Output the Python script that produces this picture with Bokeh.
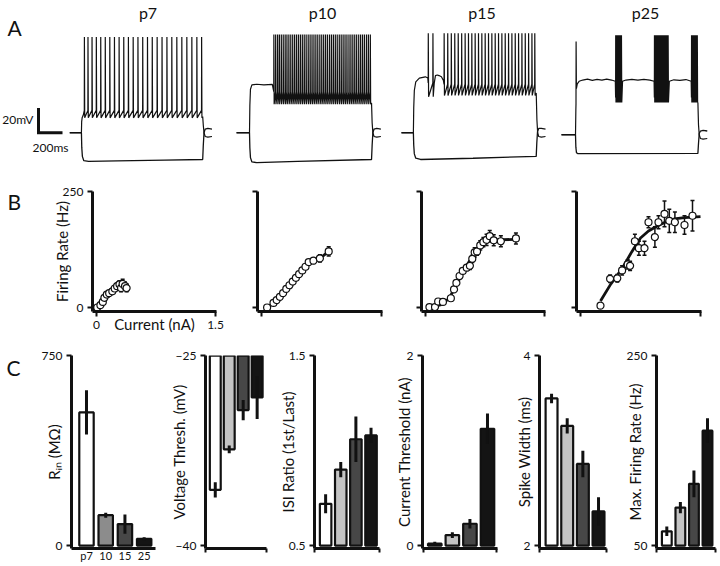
from bokeh.plotting import figure
from bokeh.layouts import row, column
from bokeh.models import Range1d, FixedTicker, Label, ColumnDataSource, Whisker, TeeHead
from bokeh.embed import file_html
from bokeh.resources import INLINE

FONT = "Lato"
INK = "#111111"

# ======================= DATA =======================
# ---- Panel A: current-clamp traces (time in ms, membrane potential in mV) ----
ages = ["p7", "p10", "p15", "p25"]
scale_ms = 200
scale_mv = 20

p7_hyper_t = [-100, 0, 3, 8, 20, 60, 300, 700, 1017, 1022, 1028, 1038, 1060, 1095]
p7_hyper_v = [-70, -70, -82, -89, -92.5, -93, -92.6, -92, -91.5, -80, -70, -67, -66.5, -67]
p7_pre_t = [-100, 0, 2, 6, 15]
p7_pre_v = [-70, -70, -61, -58, -56]
p7_spikes = [25, 55, 89, 125, 162, 200, 238, 277, 316, 355, 394, 434, 474, 514, 554,
             594, 635, 676, 717, 758, 800, 842, 884, 926, 968, 1008]
p7_post_t = [1017, 1022, 1028, 1038, 1060, 1095]
p7_post_v = [-57, -64, -70, -73, -73.5, -73]

p10_hyper_t = [-108, 0, 3, 8, 20, 60, 400, 1017, 1022, 1028, 1038, 1060, 1095]
p10_hyper_v = [-70, -70, -82, -90, -93.5, -94, -93, -91.5, -80, -70, -67, -66.5, -67]
p10_pre_t = [-108, 0, 3, 8, 20, 60, 120, 190]
p10_pre_v = [-70, -70, -48, -35, -31.5, -31, -31.5, -31]
p10_spikes = [203, 218, 234, 249, 265, 281, 297, 312, 328, 344, 360, 376, 392, 408, 424,
              440, 456, 472, 489, 505, 521, 537, 553, 569, 586, 602, 618, 634, 650, 667,
              683, 699, 715, 731, 748, 764, 780, 796, 812, 829, 845, 861, 877, 893, 910,
              926, 942, 958, 975, 991, 1007]
p10_post_t = [1017, 1022, 1028, 1038, 1060, 1095]
p10_post_v = [-46, -62, -70, -73, -73.5, -73]

p15_hyper_t = [-100, 0, 3, 8, 20, 60, 500, 1030, 1035, 1041, 1051, 1073, 1108]
p15_hyper_v = [-70, -70, -80, -87, -90.5, -91.5, -90.5, -89, -78, -69, -66.5, -66.5, -67]
p15_pre_t = [-100, 0, 3, 8, 20, 50, 100, 121]
p15_pre_v = [-70, -70, -50, -36, -29, -26, -25, -26]
p15_pair = [125, 164]
p15_mid_t = [175, 185, 200, 215, 235, 252]
p15_mid_v = [-30, -24, -23.5, -24, -25, -28]
p15_train = [258, 288, 318, 347, 376, 405, 434, 462, 490, 518, 546, 574, 602, 630,
             658, 686, 714, 742, 770, 798, 826, 854, 882, 910, 938, 966, 994, 1018]
p15_post_t = [1030, 1036, 1042, 1051, 1073, 1108]
p15_post_v = [-38, -60, -70, -73, -73.5, -73]

p25_hyper_t = [-117, 0, 3, 8, 20, 1020, 1025, 1031, 1041, 1063, 1098]
p25_hyper_v = [-70, -70, -80, -84.5, -85.2, -85, -77, -69, -67, -66.5, -67]
p25_pre_t = [-117, 0, 3]
p25_pre_v = [-70, -70, -50]
p25_first = [5]
p25_plat1_t = [15, 30, 60, 100, 140, 180, 220, 260, 300, 332]
p25_plat1_v = [-29, -27, -26, -25.3, -26.2, -25.5, -26, -25.2, -26, -27]
p25_burst1 = [335, 341, 347, 353, 359, 365, 371, 377, 383]
p25_plat2_t = [392, 420, 470, 520, 570, 620, 655]
p25_plat2_v = [-27, -26, -25.4, -26.1, -25.5, -26, -27]
p25_burst2 = [658, 664, 670, 676, 682, 688, 694, 700, 706, 712, 718, 724, 730, 736,
              742, 748, 754, 760, 766, 772]
p25_plat3_t = [782, 820, 870, 920, 964]
p25_plat3_v = [-27, -25.8, -26.2, -25.6, -27]
p25_burst3 = [967, 973, 979, 985, 991, 997, 1003, 1009, 1015]
p25_post_t = [1020, 1025, 1031, 1041, 1063, 1098]
p25_post_v = [-44, -62, -70, -73, -73.5, -73]

# ---- Panel B: firing rate (Hz) vs injected current (nA) ----
b_p7_x = [0.01, 0.05, 0.08, 0.10, 0.13, 0.16, 0.20, 0.23, 0.26, 0.29, 0.31, 0.33, 0.36, 0.38]
b_p7_y = [0, 5, 12, 21, 28, 31, 35, 41, 46, 50, 42, 51, 46, 42]
b_p7_e = [0, 0, 0, 0, 2, 3, 4, 5, 6, 8, 8, 10, 9, 8]

b_p10_x = [0.07, 0.15, 0.19, 0.23, 0.27, 0.31, 0.35, 0.39, 0.43, 0.47, 0.51, 0.55, 0.59, 0.65, 0.73, 0.84]
b_p10_y = [0, 10, 16, 23, 31, 40, 48, 56, 64, 72, 80, 88, 98, 101, 106, 121]
b_p10_e = [0, 0, 0, 0, 0, 0, 0, 0, 0, 0, 3, 4, 5, 6, 8, 10]

b_p15_x = [0.05, 0.12, 0.16, 0.22, 0.32, 0.36, 0.39, 0.43, 0.47, 0.52, 0.56, 0.59, 0.62,
           0.65, 0.69, 0.73, 0.77, 0.81, 0.86, 0.95, 1.14]
b_p15_y = [1, 1, 13, 12, 20, 39, 53, 68, 79, 86, 90, 105, 119, 121, 134, 141, 146, 154, 145, 143, 149]
b_p15_e = [0, 0, 0, 0, 2, 3, 3, 4, 5, 6, 8, 8, 10, 8, 10, 10, 12, 12, 12, 12, 12]
b_p15_fit_x = [0.05, 0.2, 0.3, 0.4, 0.5, 0.6, 0.7, 0.8, 0.9, 1.14]
b_p15_fit_y = [0, 6, 20, 52, 85, 113, 133, 143, 146, 147]

b_p25_x = [0.25, 0.37, 0.46, 0.52, 0.59, 0.62, 0.68, 0.73, 0.80, 0.85, 0.93, 0.975,
           1.05, 1.11, 1.18, 1.30, 1.40]
b_p25_y = [4, 62, 63, 80, 93, 90, 143, 128, 128, 184, 152, 184, 202, 187, 184, 178, 198]
b_p25_e = [0, 8, 8, 10, 10, 10, 15, 15, 15, 12, 22, 14, 28, 25, 22, 20, 33]
b_p25_fit_x = [0.25, 0.38, 0.52, 0.64, 0.75, 0.85, 0.96, 1.07, 1.17, 1.3, 1.5]
b_p25_fit_y = [14, 51, 84, 120, 150, 165, 176, 185, 191, 194, 196]

# ---- Panel C: summary bars (p7, p10, p15, p25) ----
c_cats = ["p7", "10", "15", "25"]
rin = [526, 120, 85, 27]
rin_err = [87, 10, 38, 6]
vthr = [-35.6, -32.4, -29.3, -28.3]
vthr_err = [0.6, 0.3, 0.8, 1.7]
isi = [0.72, 0.90, 1.06, 1.08]
isi_err = [0.05, 0.04, 0.12, 0.04]
ithr = [0.02, 0.11, 0.23, 1.23]
ithr_err = [0.02, 0.03, 0.05, 0.16]
swidth = [3.55, 3.26, 2.86, 2.36]
swidth_err = [0.05, 0.08, 0.14, 0.15]
maxfr = [65, 90, 115, 171]
maxfr_err = [5, 6, 14, 13]

colors = ["#ffffff", "#c4c4c4", "#474747", "#141414"]
colors_rin = ["#ffffff", "#8c8c8c", "#474747", "#141414"]

# ======================= LAYOUT HELPERS =======================
SX = 718 / 720
SY = 564 / 566


def px(v):
    return int(round(v * SX))


def py(v):
    return int(round(v * SY))


def make_fig(cx, cy, fx, fy, xr, yr, axes=True):
    kw = dict(width=px(cx[1]) - px(cx[0]), height=py(cy[1]) - py(cy[0]),
              x_range=Range1d(*xr), y_range=Range1d(*yr),
              output_backend="svg", toolbar_location=None,
              min_border_left=px(fx[0]) - px(cx[0]), min_border_right=px(cx[1]) - px(fx[1]),
              min_border_top=py(fy[0]) - py(cy[0]), min_border_bottom=py(cy[1]) - py(fy[1]))
    if not axes:
        kw.update(x_axis_type=None, y_axis_type=None)
    p = figure(**kw)
    p.outline_line_color = None
    p.background_fill_color = "white"
    p.border_fill_color = "white"
    if axes:
        p.grid.visible = False
    return p


def style_axis(ax, ticks, label=None, show=True, standoff=0, tick_out=5, size="12px"):
    ax.ticker = FixedTicker(ticks=ticks)
    ax.axis_line_width = 3
    ax.axis_line_color = INK
    ax.major_tick_line_width = 2
    ax.major_tick_line_color = INK
    ax.major_tick_out = tick_out
    ax.major_tick_in = 0
    ax.minor_tick_out = 0
    ax.minor_tick_in = 0
    ax.major_label_text_font = FONT
    ax.major_label_text_font_size = size
    ax.major_label_text_color = INK
    ax.major_label_standoff = 4
    if not show:
        ax.major_label_overrides = {t: "" for t in ticks}
    ax.axis_label = label
    ax.axis_label_text_font = FONT
    ax.axis_label_text_font_size = "15px"
    ax.axis_label_text_font_style = "normal"
    ax.axis_label_text_color = INK
    ax.axis_label_standoff = standoff


def spikes_path(times, peak, trough, thr):
    t, v = [], []
    for s in times:
        t += [s - 0.8, s, s + 2.5]
        v += [thr, peak, trough]
    return t, v


def concat(*parts):
    t, v = [], []
    for pt, pv in parts:
        t += list(pt)
        v += list(pv)
    return t, v


# ======================= ROW A =======================
MS_PX, MV_PX = 0.12, 1.25   # reference pixels per ms / per mV
A_Y = (0, 178)


def trace_ranges(cx, onset_px, base_px):
    xr = ((cx[0] - onset_px) / MS_PX, (cx[1] - onset_px) / MS_PX)
    yr = (-70 - (A_Y[1] - base_px) / MV_PX, -70 + (base_px - A_Y[0]) / MV_PX)
    return xr, yr


# scale-bar / letter figure
a0_cx = (0, 69)
a0 = make_fig(a0_cx, A_Y, a0_cx, A_Y,
              ((a0_cx[0] - 38) / MS_PX, (a0_cx[1] - 38) / MS_PX),
              (-(A_Y[1] - 133) / MV_PX, 133 / MV_PX), axes=False)
a0.line(x=[scale_ms, 0, 0], y=[0, 0, scale_mv], line_width=3, color=INK, line_join="miter")
a0.add_layout(Label(x=-42, y=scale_mv / 2 + 1, text=f"{scale_mv}mV", text_align="right",
                    text_baseline="middle", text_font=FONT, text_font_size="12px", text_color=INK))
a0.add_layout(Label(x=scale_ms / 2, y=-12, text=f"{scale_ms}ms", text_align="center",
                    text_baseline="middle", text_font=FONT, text_font_size="12px", text_color=INK))
a0.add_layout(Label(x=-258, y=85, text="A", text_align="left", text_baseline="middle",
                    text_font=FONT, text_font_size="21px", text_color=INK))

traces = {
    "p7": (concat((p7_pre_t, p7_pre_v), spikes_path(p7_spikes, 7, -58, -52),
                  (p7_post_t, p7_post_v)), (p7_hyper_t, p7_hyper_v)),
    "p10": (concat((p10_pre_t, p10_pre_v), spikes_path(p10_spikes, 9, -47, -37),
                   (p10_post_t, p10_post_v)), (p10_hyper_t, p10_hyper_v)),
    "p15": (concat((p15_pre_t, p15_pre_v), spikes_path(p15_pair, 10, -41, -30),
                   (p15_mid_t, p15_mid_v), spikes_path(p15_train, 10, -40, -31),
                   (p15_post_t, p15_post_v)), (p15_hyper_t, p15_hyper_v)),
    "p25": (concat((p25_pre_t, p25_pre_v), spikes_path(p25_first, 5, -33, -45),
                   (p25_plat1_t, p25_plat1_v), spikes_path(p25_burst1, 10, -44, -40),
                   (p25_plat2_t, p25_plat2_v), spikes_path(p25_burst2, 10, -44, -40),
                   (p25_plat3_t, p25_plat3_v), spikes_path(p25_burst3, 10, -44, -40),
                   (p25_post_t, p25_post_v)), (p25_hyper_t, p25_hyper_v)),
}
a_canvas = {"p7": (69, 228), "p10": (228, 394), "p15": (394, 557), "p25": (557, 720)}
a_onset = {"p7": 81, "p10": 250, "p15": 414, "p25": 577}
a_base = {"p7": 133, "p10": 133, "p15": 133, "p25": 135}
a_title_px = {"p7": 148, "p10": 323, "p15": 483, "p25": 647}

rowA = [a0]
for age in ages:
    cx = a_canvas[age]
    xr, yr = trace_ranges(cx, a_onset[age], a_base[age])
    p = make_fig(cx, A_Y, cx, A_Y, xr, yr, axes=False)
    (dt, dv), (ht, hv) = traces[age]
    p.line(ht, hv, line_width=1.3, color=INK)
    p.line(dt, dv, line_width=1.2, color=INK)
    p.add_layout(Label(x=(a_title_px[age] - a_onset[age]) / MS_PX,
                       y=-70 + (a_base[age] - 12) / MV_PX, text=age,
                       text_align="center", text_baseline="middle",
                       text_font=FONT, text_font_size="16px", text_color=INK))
    rowA.append(p)

# ======================= ROW B =======================
B_Y = (178, 342)
B_FY = (192, 312)


def letter_fig(cx, cy, letter, lx, ly):
    p = make_fig(cx, cy, cx, cy, (cx[0], cx[1]), (cy[1], cy[0]), axes=False)
    p.add_layout(Label(x=lx, y=ly, text=letter, text_align="left", text_baseline="middle",
                       text_font=FONT, text_font_size="21px", text_color=INK))
    return p


b_letter = letter_fig((0, 40), B_Y, "B", 7, 191)

b_specs = [
    ((40, 232), (92, 217), b_p7_x, b_p7_y, b_p7_e, b_p7_x, b_p7_y, True),
    ((232, 396), (258, 383), b_p10_x, b_p10_y, b_p10_e, b_p10_x, b_p10_y, False),
    ((396, 562), (422, 547), b_p15_x, b_p15_y, b_p15_e, b_p15_fit_x, b_p15_fit_y, False),
    ((562, 720), (578, 703), b_p25_x, b_p25_y, b_p25_e, b_p25_fit_x, b_p25_fit_y, False),
]
rowB = [b_letter]
for cx, fx, x, y, e, lx, ly, first in b_specs:
    p = make_fig(cx, B_Y, fx, B_FY, (-0.05, 1.5125), (-8.6, 250.3))
    style_axis(p.xaxis[0], [0, 1.5], "Current (nA)" if first else None, show=first,
               standoff=-17)
    style_axis(p.yaxis[0], [0, 250], "Firing Rate (Hz)" if first else None, show=first,
               standoff=-11)
    p.line(lx, ly, line_width=2.8, color=INK)
    ex = [a for a, b in zip(x, e) if b > 0]
    ey = [a for a, b in zip(y, e) if b > 0]
    ee = [b for b in e if b > 0]
    src = ColumnDataSource(dict(x=ex, up=[a + b for a, b in zip(ey, ee)],
                                lo=[a - b for a, b in zip(ey, ee)]))
    p.add_layout(Whisker(source=src, base="x", upper="up", lower="lo", line_width=1.5,
                         line_color=INK, level="underlay",
                         upper_head=TeeHead(size=4, line_width=1.5, line_color=INK),
                         lower_head=TeeHead(size=4, line_width=1.5, line_color=INK)))
    p.scatter(x, y, size=7, fill_color="white", line_color=INK, line_width=1.2)
    rowB.append(p)

# ======================= ROW C =======================
C_Y = (342, 566)
C_FY = (356, 553)

c_letter = letter_fig((0, 30), C_Y, "C", 6, 356)


def c_panel(cx, fx, xr, w, vals, errs, lo, hi, label, standoff, cols, hanging=False,
            cat_labels=False):
    span = hi - lo
    yr = (lo - 3 * span / 194, hi + span * 0.001)
    p = make_fig(cx, C_Y, fx, C_FY, xr, yr)
    idx = list(range(len(vals)))
    if cat_labels:
        style_axis(p.xaxis[0], idx, None, show=True, tick_out=0, size="11px")
        p.xaxis[0].major_label_standoff = 0
        p.xaxis[0].major_label_overrides = {i: c for i, c in zip(idx, c_cats)}
    else:
        style_axis(p.xaxis[0], [xr[0] + 0.03, xr[1] - 0.03], None, show=False, tick_out=4)
    style_axis(p.yaxis[0], [lo, hi], label, show=True, standoff=standoff)
    if hanging:
        p.vbar(x=idx, width=w, top=[hi] * len(vals), bottom=vals, fill_color=cols,
               line_color=INK, line_width=2.2)
    else:
        p.vbar(x=idx, width=w, top=vals, bottom=[lo] * len(vals), fill_color=cols,
               line_color=INK, line_width=2.2)
    p.segment(x0=idx, x1=idx, y0=[v - e for v, e in zip(vals, errs)],
              y1=[v + e for v, e in zip(vals, errs)], line_width=3, color=INK)
    return p


c1 = c_panel((30, 166), (71, 155), (-0.78, 3.59), 0.75, rin, rin_err, 0, 750,
             "R\u1d62\u2099 (M\u03a9)", -24, colors_rin, cat_labels=True)
c2 = c_panel((166, 276), (195, 267), (-0.70, 3.67), 0.78, vthr, vthr_err, -40, -25,
             "Voltage Thresh. (mV)", -15, colors, hanging=True)
c3 = c_panel((276, 392), (307, 380), (-0.735, 3.56), 0.76, isi, isi_err, 0.5, 1.5,
             "ISI Ratio (1st/Last)", -11, colors)
c4 = c_panel((392, 512), (419, 498), (-0.70, 3.57), 0.77, ithr, ithr_err, 0, 2,
             "Current Threshold (nA)", -9, colors)
c5 = c_panel((512, 624), (533, 608), (-0.77, 3.51), 0.76, swidth, swidth_err, 2, 4,
             "Spike Width (ms)", -12, colors)
c6 = c_panel((624, 720), (651, 717), (-0.76, 3.59), 0.72, maxfr, maxfr_err, 50, 250,
             "Max. Firing Rate (Hz)", -20, colors)

layout = column(row(*rowA), row(*rowB), row(c_letter, c1, c2, c3, c4, c5, c6))

open("out.html", "w").write(file_html(layout, INLINE))
